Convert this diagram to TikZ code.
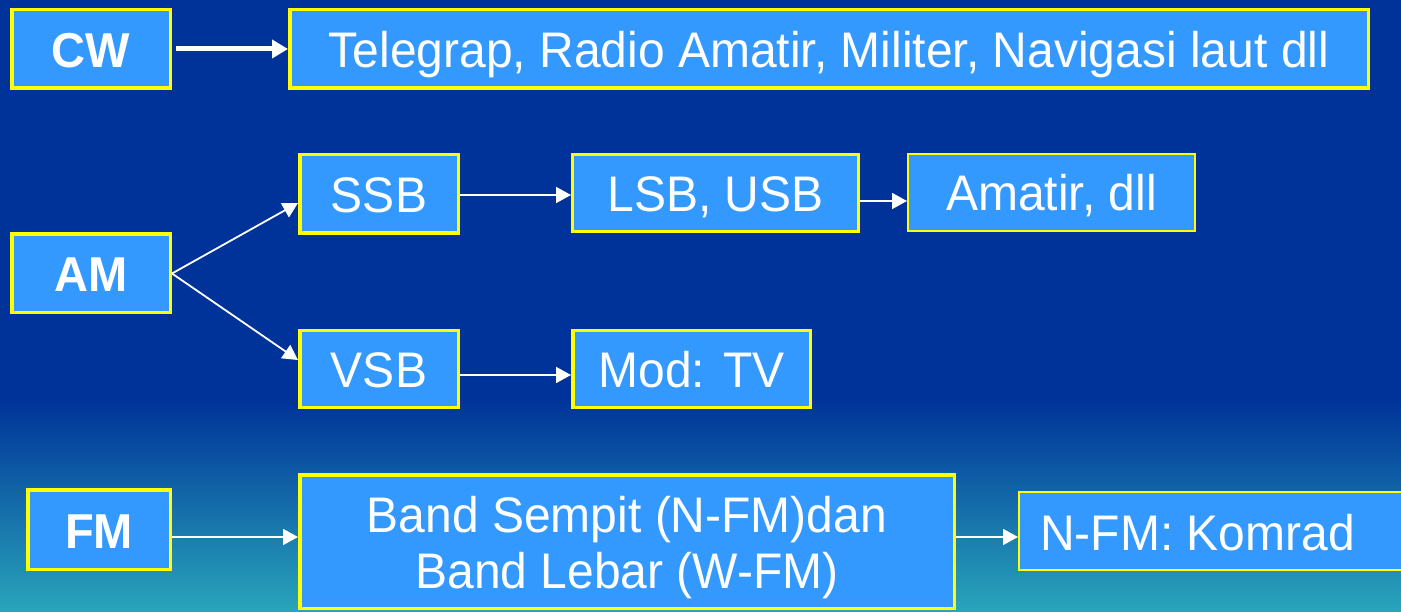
\documentclass[tikz,border=0pt]{standalone}
\usepackage{fontspec}
\setmainfont{Liberation Sans}[FakeStretch=0.96]
\usetikzlibrary{arrows.meta}
\definecolor{bgtop}{HTML}{003399}
\definecolor{bgbot}{HTML}{29A5BA}
\definecolor{boxfill}{HTML}{3399FF}
\definecolor{boxline}{HTML}{FFFF00}
\tikzset{
  box/.style={draw=boxline, fill=boxfill, line width=3.5pt, text=white, inner sep=0pt,
    font=\fontsize{50}{56}\selectfont, align=center, text height=37pt, text depth=0pt},
  thinbox/.style={box, line width=2pt},
  boldtext/.style={font=\fontsize{49}{56}\selectfont\bfseries},
  conn/.style={draw=white, line width=1.8pt, -{Triangle[length=15pt,width=16pt]}},
  thickconn/.style={draw=white, line width=5pt, -{Triangle[length=16pt,width=18pt]}},
}
\begin{document}
\begin{tikzpicture}[x=1pt,y=-1pt]
\clip (0,0) rectangle (1401,612);
\fill[bgtop] (0,0) rectangle (1401,401);
\shade[top color=bgtop, bottom color=bgbot] (0,400) rectangle (1401,612);

\node[box, boldtext, minimum width=158.5pt, minimum height=78.5pt] (cw) at (91,49) {CW};
\node[box, minimum width=1078.5pt, minimum height=78.5pt] (tel) at (829,49) {Telegrap, Radio Amatir, Militer, Navigasi laut dll};

\node[box, boldtext, minimum width=158.5pt, minimum height=78.5pt] (am) at (91,273.5) {AM};
\node[box, minimum width=158.5pt, minimum height=78.5pt] (ssb) at (379,194) {SSB};
\node[box, line width=3pt, minimum width=286pt, minimum height=77pt] (lsb) at (715.5,193) {LSB, USB};
\node[thinbox, minimum width=287pt, minimum height=77pt] (amatir) at (1051.5,192.5) {Amatir, dll};
\node[box, minimum width=158.5pt, minimum height=76.5pt] (vsb) at (379,369) {VSB};
\node[box, minimum width=237.5pt, minimum height=76.5pt] (mod) at (691.5,369) {Mod: TV};

\node[box, boldtext, minimum width=142.5pt, minimum height=79.5pt] (fm) at (99,529.5) {FM};
\node[box, minimum width=654.5pt, minimum height=133.5pt, text height=93pt, text depth=0pt] (band) at (627,541.5) {Band Sempit (N-FM)dan\\Band Lebar (W-FM)};
\node[thinbox, minimum width=400pt, minimum height=78pt] (nfm) at (1219,531) {};
\node[anchor=base west, text=white, font=\fontsize{50}{56}\selectfont, inner sep=0pt] (nfmtext) at (1040,550) {N-FM: Komrad};

\draw[thickconn] ([xshift=4pt]cw.east) -- (tel.west);
\draw[conn] (am.east) -- ([yshift=-9pt]ssb.west);
\draw[conn] (am.east) -- ([yshift=9pt]vsb.west);
\draw[conn] ([yshift=-1pt]ssb.east) -- ([yshift=-2pt]lsb.west);
\draw[conn] ([yshift=-8pt]lsb.east) -- ([yshift=-8.5pt]amatir.west);
\draw[conn] ([yshift=-6pt]vsb.east) -- ([yshift=-6pt]mod.west);
\draw[conn] ([yshift=-7.5pt]fm.east) -- ([yshift=4.5pt]band.west);
\draw[conn] ([yshift=4.5pt]band.east) -- ([yshift=-6pt]nfm.west);
\end{tikzpicture}
\end{document}
